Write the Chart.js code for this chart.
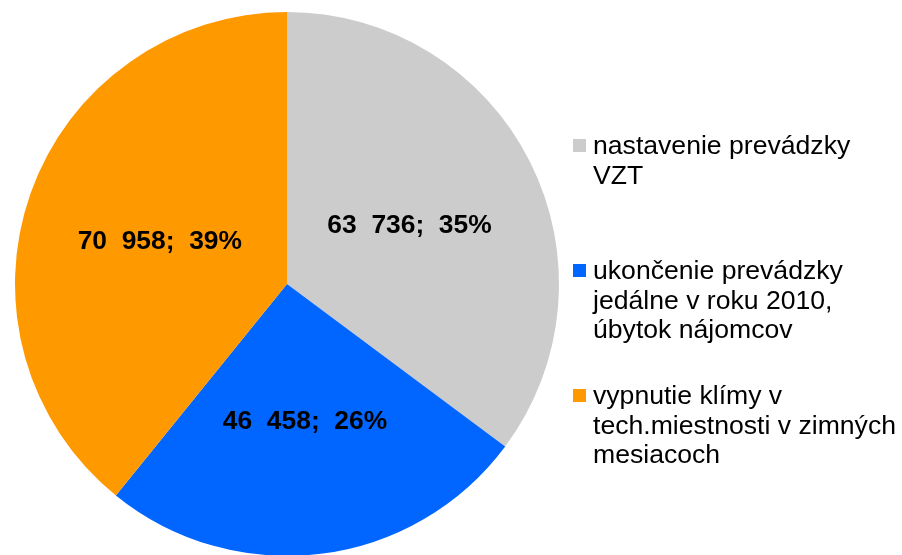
<!DOCTYPE html>
<html>
<head>
<meta charset="utf-8">
<script src="https://cdn.jsdelivr.net/npm/chart.js@4.4.0/dist/chart.umd.min.js"></script>
<style>
  html, body { margin: 0; padding: 0; background: #fff; overflow: hidden; }
  #wrap { position: relative; width: 902px; height: 560px; }
</style>
</head>
<body>
<div id="wrap"><canvas id="chart"></canvas></div>
<script>
const categories = [
    'nastavenie prevádzky VZT',
    'ukončenie prevádzky jedálne v roku 2010, úbytok nájomcov',
    'vypnutie klímy v tech.miestnosti v zimných mesiacoch'
];
const legendLines = [
    ['nastavenie prevádzky', 'VZT'],
    ['ukončenie prevádzky', 'jedálne v roku 2010,', 'úbytok nájomcov'],
    ['vypnutie klímy v', 'tech.miestnosti v zimných', 'mesiacoch']
];
const values = [63736, 46458, 70958];
const sliceColors = ['#CCCCCC', '#0066FF', '#FF9900'];

const FONT = '"Liberation Sans", Arial, sans-serif';

function formatValue(v) {
    const thousands = Math.floor(v / 1000);
    const rest = String(v % 1000).padStart(3, '0');
    return thousands + '  ' + rest;
}

// value; percent labels inside the slices
const sliceLabels = {
    id: 'sliceLabels',
    afterDatasetsDraw(chart) {
        const ctx = chart.ctx;
        const meta = chart.getDatasetMeta(0);
        const data = chart.data.datasets[0].data;
        const total = data.reduce((a, b) => a + b, 0);
        ctx.save();
        ctx.font = 'bold 26.4px ' + FONT;
        ctx.fillStyle = '#000';
        ctx.textAlign = 'center';
        ctx.textBaseline = 'middle';
        meta.data.forEach((arc, i) => {
            const p = arc.tooltipPosition();
            const pct = Math.round(data[i] / total * 100);
            ctx.fillText(formatValue(data[i]) + ';  ' + pct + '%', p.x + 1, p.y + 3);
        });
        ctx.restore();
    }
};

// legend on the right with wrapped lines
const sideLegend = {
    id: 'sideLegend',
    afterDraw(chart, args, opts) {
        const ctx = chart.ctx;
        const colors = chart.data.datasets[0].backgroundColor;
        ctx.save();
        ctx.font = '26.6px ' + FONT;
        ctx.textAlign = 'left';
        ctx.textBaseline = 'alphabetic';
        legendLines.forEach((lines, i) => {
            const base = opts.firstBaseline + i * opts.itemStep;
            ctx.fillStyle = colors[i];
            ctx.fillRect(opts.boxX, base - 15, 13, 13);
            ctx.fillStyle = '#000';
            lines.forEach((line, k) => {
                ctx.fillText(line, opts.textX, base + k * opts.lineHeight);
            });
        });
        ctx.restore();
    }
};

new Chart(document.getElementById('chart'), {
    type: 'pie',
    data: {
        labels: categories,
        datasets: [{
            data: values,
            backgroundColor: sliceColors,
            borderWidth: 0
        }]
    },
    options: {
        responsive: true,
        maintainAspectRatio: false,
        animation: false,
        layout: { padding: { left: 15, right: 343, top: 12, bottom: 4 } },
        plugins: {
            legend: { display: false },
            tooltip: { enabled: false },
            sideLegend: { boxX: 573, textX: 593, firstBaseline: 154, itemStep: 125, lineHeight: 29.5 }
        }
    },
    plugins: [sliceLabels, sideLegend]
});
</script>
</body>
</html>
